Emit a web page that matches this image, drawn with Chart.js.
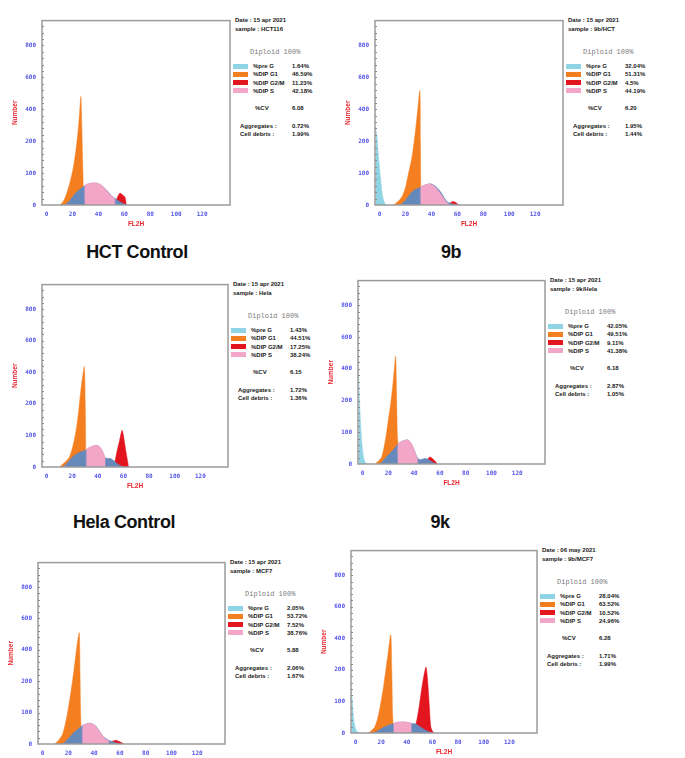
<!DOCTYPE html>
<html>
<head>
<meta charset="utf-8">
<script src="https://cdn.jsdelivr.net/npm/chart.js@4.4.0/dist/chart.umd.min.js"></script>
<style>
body { margin:0; background:#fff; width:685px; height:758px; position:relative; overflow:hidden; font-family:"Liberation Sans", Arial, sans-serif; }
.panel { position:absolute; }
.txt { position:absolute; font-weight:bold; font-size:6px; color:#1a1a1a; white-space:nowrap; line-height:8px; }
.dip { position:absolute; font-family:"Liberation Mono", monospace; font-size:7px; color:#7a7a7a; white-space:nowrap; line-height:8px; }
.sw { position:absolute; width:15px; height:5px; }
.cap { position:absolute; width:200px; text-align:center; font-weight:bold; font-size:18px; color:#111; letter-spacing:-0.4px; }
</style>
</head>
<body>
<script>
// ---- axis ticks ----
var xTickValues = [0, 20, 40, 60, 80, 100, 120];
var yTickValues = [0, 100, 200, 300, 400, 500];
var yTickLabels = ['0', '100', '200', '400', '600', '800'];

// ---- text of each panel ----
var captions = ['HCT Control', '9b', 'Hela Control', '9k', '', ''];
var dates = ['15 apr 2021', '15 apr 2021', '15 apr 2021', '15 apr 2021', '15 apr 2021', '06 may 2021'];
var samples = ['HCT116', '9b/HCT', 'Hela', '9k/Hela', 'MCF7', '9b/MCF7'];
var preG = ['1.64%', '32.04%', '1.43%', '42.05%', '2.05%', '28.04%'];
var dipG1 = ['46.59%', '51.31%', '44.51%', '49.51%', '53.72%', '63.52%'];
var dipG2M = ['11.23%', '4.5%', '17.25%', '9.11%', '7.52%', '10.52%'];
var dipS = ['42.18%', '44.19%', '38.24%', '41.38%', '38.76%', '24.96%'];
var cvs = ['6.08', '6.20', '6.15', '6.18', '5.88', '6.28'];
var aggregates = ['0.72%', '1.95%', '1.72%', '2.87%', '2.06%', '1.71%'];
var debris = ['1.99%', '1.44%', '1.36%', '1.05%', '1.67%', '1.99%'];

// ---- histogram curves [FL2H, count] ----
// HCT control
var hctPreG = [];
var hctG1 = [[10.4,0],[13,12],[15.5,36],[18,70],[20.6,116],[22.6,170],[24.5,238],[25.6,295],[26.5,340],[27.2,250],[27.8,140],[28.3,61],[28.6,0]];
var hctS = [[14.2,0],[18,14],[22,36],[26,50],[29.6,61],[34,67],[38,69],[42,62],[46,48],[50,30],[53,20],[56,12],[59,5],[62,0]];
var hctSGate = [[29.6,0],[29.6,61],[33,68],[37,70],[41,66],[45,52],[49,32],[52.7,18],[52.7,0]];
var hctG2M = [[52.5,0],[54,18],[56.5,37],[58.5,32],[60.5,24],[61.2,10],[61.5,0]];
// 9b / HCT
var b9PreG = [[-3,240],[-2,215],[-0.5,137],[1,75],[2,36],[3.5,10],[5,0]];
var b9G1 = [[10.8,0],[14,10],[17.2,25],[20,55],[22.2,96],[25,150],[27.3,218],[29.5,300],[31.1,358],[31.5,200],[31.8,56],[32,0]];
var b9S = [[15.9,0],[20,15],[24.8,40],[28,50],[31.8,56],[36,64],[40,66],[44,56],[48,36],[51.3,14],[54,6],[58,2],[62,0]];
var b9SGate = [[31.8,0],[31.8,56],[35,63],[38.6,66],[42,60],[46.2,40],[49,24],[51.3,10],[53.3,4],[53.3,0]];
var b9G2M = [[53,0],[55,8],[57,11],[59,7],[61,0]];
// Hela control
var helaPreG = [];
var helaG1 = [[10.2,0],[13,10],[15.5,20],[17.9,32],[20.5,65],[23,114],[25,175],[26.9,247],[28.3,290],[29.5,318],[30.2,200],[30.6,60],[30.9,0]];
var helaS = [[12.8,0],[16,12],[18.5,24],[21.8,37],[26,47],[31.2,55],[35,64],[39.7,68],[43,55],[45.6,30],[48,27],[50,27],[53,18],[56,8],[60,0]];
var helaSGate = [[31.2,0],[31.2,55],[34,63],[37,68],[39.7,68],[42,62],[44,48],[45.6,30],[45.6,0]];
var helaG2M = [[52.5,0],[54,30],[55.1,52],[57,85],[58.9,116],[60,100],[61,73],[62.5,35],[64,0]];
// 9k / Hela
var k9PreG = [[-3,288],[-2.2,190],[-1.2,104],[0,45],[0.8,22],[2,6],[3.3,0]];
var k9G1 = [[9.7,0],[12,8],[14.8,22],[17.5,70],[19.9,135],[22,195],[23.7,257],[24.8,305],[25.7,339],[26.4,220],[27,90],[27.5,63],[27.8,0]];
var k9S = [[13.5,0],[17,15],[21.1,33],[24.5,48],[27.5,63],[31,72],[35.1,76],[38,62],[40.2,43],[42.8,18],[45,14],[47,16],[49.2,17],[51,14],[54,6],[57,0]];
var k9SGate = [[27.5,0],[27.5,63],[31,72],[35.1,76],[38,64],[40.2,43],[42,22],[42.8,14],[42.8,0]];
var k9G2M = [[49,0],[50.5,14],[52.2,22],[54,18],[56,10],[58,0]];
// MCF7 control
var mcfPreG = [];
var mcfG1 = [[9.4,0],[12.5,12],[15.7,33],[19,90],[22.1,167],[24.2,230],[26,290],[27.3,330],[28.5,354],[29.1,220],[29.5,100],[29.8,59],[30,0]];
var mcfS = [[15.7,0],[19.5,15],[23.4,33],[27,46],[31,59],[34,64],[37.4,66],[41,58],[44,42],[46.3,28],[49,18],[51.4,12],[54,8],[57,4],[60,0]];
var mcfSGate = [[31,0],[31,59],[34,64],[37.4,66],[40.5,60],[43.5,45],[46.3,28],[49,16],[51.4,10],[51.4,0]];
var mcfG2M = [[52,0],[54,8],[56.5,12],[59,9],[61.5,4],[63,0]];
// 9b / MCF7
var m9bPreG = [[-3.2,132],[-2.4,100],[-1.3,40],[0,14],[1.3,4],[3.7,0]];
var m9bG1 = [[10,0],[12.5,8],[15,19],[17.5,50],[20,101],[22,150],[23.8,204],[25.7,260],[27.5,311],[28.3,200],[28.9,60],[29.3,30],[29.5,0]];
var m9bS = [[13.7,0],[18,9],[22.5,19],[26,25],[30,30],[33,34],[36.2,35],[40,34],[43.5,30],[46,30],[48,26],[51,18],[54,10],[58,3],[61,0]];
var m9bSGate = [[30,0],[30,30],[33,34],[36.2,35],[40,34],[43.5,29],[43.5,0]];
var m9bG2M = [[45,0],[46.3,20],[47.5,35],[49.5,80],[51.3,132],[53.5,185],[55,209],[55.7,190],[56.3,163],[57.5,90],[58.7,19],[60,6],[61.3,0]];

var curves = [
  [hctPreG, hctG1, hctS, hctSGate, hctG2M],
  [b9PreG, b9G1, b9S, b9SGate, b9G2M],
  [helaPreG, helaG1, helaS, helaSGate, helaG2M],
  [k9PreG, k9G1, k9S, k9SGate, k9G2M],
  [mcfPreG, mcfG1, mcfS, mcfSGate, mcfG2M],
  [m9bPreG, m9bG1, m9bS, m9bSGate, m9bG2M]
];

// ---- layout / style ----
var colPreG = '#8fd4e4', colG1 = '#f47f20', colS = '#6689bb', colSGate = '#f3a6c7', colG2M = '#e3151f';
// plot box of each panel (page px)
var boxes = [
  {left:42, top:15, w:188, h:190},
  {left:375, top:15, w:188, h:190},
  {left:42, top:279, w:186, h:188},
  {left:358, top:275, w:187, h:189},
  {left:38, top:557, w:187, h:187},
  {left:351, top:545, w:186, h:188}
];
var capPos = [[137, 242], [451, 242], [124, 512], [440, 512]];

var boxPlugin = {
  id: 'box',
  afterDraw: function(chart) {
    var a = chart.chartArea, ctx = chart.ctx;
    ctx.save();
    ctx.strokeStyle = '#9b9b9b';
    ctx.lineWidth = 1.5;
    ctx.strokeRect(a.left, a.top, a.right - a.left, a.bottom - a.top);
    // small tick dashes along the left edge
    ctx.strokeStyle = '#8a8a8a';
    ctx.lineWidth = 1;
    var ys = chart.scales.y;
    for (var v = 20; v < 578; v += 20) {
      var py = Math.round(ys.getPixelForValue(v)) + 0.5;
      ctx.beginPath();
      ctx.moveTo(a.left, py);
      ctx.lineTo(a.left + 2, py);
      ctx.stroke();
    }
    ctx.restore();
  }
};

function toPts(arr) {
  return arr.map(function(p) { return {x: p[0], y: p[1]}; });
}

function area(arr, col) {
  return {
    data: toPts(arr), showLine: true, fill: 'origin',
    backgroundColor: col, borderColor: col, borderWidth: 0.5,
    pointRadius: 0, tension: 0.3
  };
}

function addText(cls, x, y, text, color) {
  var d = document.createElement('div');
  d.className = cls;
  d.style.left = x + 'px';
  d.style.top = y + 'px';
  d.textContent = text;
  if (color) d.style.background = color;
  document.body.appendChild(d);
  return d;
}

function addPanel(i) {
  var b = boxes[i];
  var padL = 4, yW = 36, padT = 4, xH = 26, padR = 2;
  var wrap = document.createElement('div');
  wrap.className = 'panel';
  wrap.style.left = (b.left - padL - yW) + 'px';
  wrap.style.top = (b.top - padT) + 'px';
  wrap.style.width = (padL + yW + b.w + padR) + 'px';
  wrap.style.height = (padT + b.h + xH) + 'px';
  var cv = document.createElement('canvas');
  wrap.appendChild(cv);
  document.body.appendChild(wrap);

  var c = curves[i];
  var tickFont = {family: 'DejaVu Sans Mono', size: 6, weight: 'bold'};
  new Chart(cv, {
    type: 'scatter',
    data: {
      // first one is drawn on top
      datasets: [area(c[3], colSGate), area(c[2], colS), area(c[4], colG2M), area(c[1], colG1), area(c[0], colPreG)]
    },
    options: {
      responsive: true, maintainAspectRatio: false, animation: false, devicePixelRatio: 1,
      layout: {padding: {left: padL, top: padT, right: padR, bottom: 0}},
      plugins: {legend: {display: false}, tooltip: {enabled: false}},
      scales: {
        x: {
          type: 'linear', min: -3.5, max: 141.5,
          grid: {display: false, drawTicks: false},
          border: {display: false},
          afterBuildTicks: function(s) { s.ticks = xTickValues.map(function(v) { return {value: v}; }); },
          afterFit: function(s) { s.height = xH; },
          ticks: {color: '#5656e8', font: tickFont, padding: 6, maxRotation: 0},
          title: {display: true, text: 'FL2H', color: '#e8262e', font: {size: 6.5, weight: 'bold'}, padding: {top: 0, bottom: 3}}
        },
        y: {
          min: 0, max: 578,
          grid: {display: false, drawTicks: false},
          border: {display: false},
          afterBuildTicks: function(s) { s.ticks = yTickValues.map(function(v) { return {value: v}; }); },
          afterFit: function(s) { s.width = yW; },
          ticks: {
            color: '#5656e8', font: tickFont, padding: 6,
            callback: function(v, idx) { return yTickLabels[idx]; }
          },
          title: {display: true, text: 'Number', color: '#e8262e', font: {size: 6.5, weight: 'bold'}, padding: {top: 5, bottom: 0}}
        }
      }
    },
    plugins: [boxPlugin]
  });

  // info block to the right of the plot
  var R = b.left + b.w, T = b.top;
  addText('txt', R + 5, T + 1, 'Date : ' + dates[i]);
  addText('txt', R + 5, T + 10, 'sample : ' + samples[i]);
  addText('dip', R + 20, T + 33, 'Diploid 100%');
  var rows = [['%pre G', preG[i], colPreG], ['%DIP G1', dipG1[i], colG1], ['%DIP G2/M', dipG2M[i], colG2M], ['%DIP S', dipS[i], colSGate]];
  var rowY = [51, 59.3, 67.6, 75.9];
  rows.forEach(function(r, k) {
    var y = T + rowY[k];
    addText('sw', R + 3, y - 2.5, '', r[2]);
    addText('txt', R + 23, y - 4, r[0]);
    addText('txt', R + 62, y - 4, r[1]);
  });
  addText('txt', R + 25, T + 89, '%CV');
  addText('txt', R + 62, T + 89, cvs[i]);
  addText('txt', R + 10, T + 107, 'Aggregates :');
  addText('txt', R + 62, T + 107, aggregates[i]);
  addText('txt', R + 10, T + 115, 'Cell debris :');
  addText('txt', R + 62, T + 115, debris[i]);

  if (captions[i]) {
    var cp = document.createElement('div');
    cp.className = 'cap';
    cp.style.left = (capPos[i][0] - 100) + 'px';
    cp.style.top = capPos[i][1] + 'px';
    cp.textContent = captions[i];
    document.body.appendChild(cp);
  }
}

for (var i = 0; i < boxes.length; i++) addPanel(i);
</script>
</body>
</html>
